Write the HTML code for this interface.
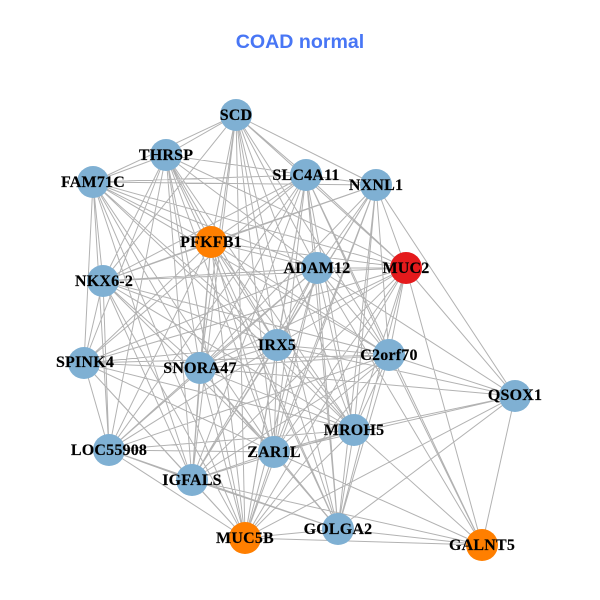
<!DOCTYPE html>
<html><head><meta charset="utf-8"><style>
html,body{margin:0;padding:0;background:#fff}
svg{display:block}
.n text{font:bold 16px "Liberation Serif",serif;letter-spacing:.2px;text-anchor:middle;fill:#000;stroke:#000;stroke-width:.15px}
</style></head><body>
<svg width="600" height="600" viewBox="0 0 600 600" xmlns="http://www.w3.org/2000/svg">
<rect width="600" height="600" fill="#fff"/>
<text x="300" y="48" font-family="Liberation Sans" font-weight="bold" font-size="19.6" fill="#4876F5" text-anchor="middle">COAD normal</text>
<path fill="none" stroke="#b2b2b2" stroke-width="1" d="
M236 115L166 155M236 115L93 182M236 115L306 175M236 115L376 185M236 115L211 242M236 115L317 268M236 115L406 268M236 115L103 281M236 115L200 368M236 115L277 345M236 115L389 355M236 115L354 430M236 115L274 452M236 115L192 480M236 115L245 538M236 115L338 529
M166 155L93 182M166 155L306 175M166 155L211 242M166 155L317 268M166 155L406 268M166 155L103 281M166 155L84 363M166 155L200 368M166 155L277 345M166 155L354 430M166 155L109 450M166 155L274 452M166 155L192 480M166 155L245 538M166 155L338 529
M93 182L306 175M93 182L376 185M93 182L211 242M93 182L317 268M93 182L406 268M93 182L103 281M93 182L84 363M93 182L200 368M93 182L277 345M93 182L389 355M93 182L354 430M93 182L109 450M93 182L274 452M93 182L192 480M93 182L245 538
M306 175L376 185M306 175L211 242M306 175L317 268M306 175L406 268M306 175L103 281M306 175L84 363M306 175L200 368M306 175L277 345M306 175L389 355M306 175L354 430M306 175L109 450M306 175L274 452M306 175L192 480M306 175L245 538M306 175L338 529M306 175L482 545
M376 185L211 242M376 185L317 268M376 185L406 268M376 185L103 281M376 185L200 368M376 185L277 345M376 185L389 355M376 185L515 396M376 185L354 430M376 185L274 452M376 185L192 480M376 185L245 538M376 185L338 529
M211 242L317 268M211 242L406 268M211 242L103 281M211 242L84 363M211 242L200 368M211 242L277 345M211 242L389 355M211 242L354 430M211 242L109 450M211 242L274 452M211 242L192 480M211 242L245 538M211 242L338 529
M317 268L406 268M317 268L103 281M317 268L84 363M317 268L200 368M317 268L277 345M317 268L389 355M317 268L515 396M317 268L354 430M317 268L109 450M317 268L274 452M317 268L192 480M317 268L245 538M317 268L338 529M317 268L482 545
M406 268L103 281M406 268L84 363M406 268L200 368M406 268L277 345M406 268L389 355M406 268L515 396M406 268L354 430M406 268L274 452M406 268L192 480M406 268L245 538M406 268L338 529M406 268L482 545
M103 281L84 363M103 281L200 368M103 281L277 345M103 281L389 355M103 281L354 430M103 281L109 450M103 281L274 452M103 281L192 480M103 281L245 538
M84 363L200 368M84 363L277 345M84 363L389 355M84 363L354 430M84 363L109 450M84 363L274 452M84 363L192 480M84 363L245 538
M200 368L277 345M200 368L389 355M200 368L515 396M200 368L354 430M200 368L109 450M200 368L274 452M200 368L192 480M200 368L245 538M200 368L338 529
M277 345L389 355M277 345L515 396M277 345L354 430M277 345L109 450M277 345L274 452M277 345L192 480M277 345L245 538M277 345L338 529
M389 355L515 396M389 355L354 430M389 355L109 450M389 355L274 452M389 355L192 480M389 355L245 538M389 355L338 529M389 355L482 545
M515 396L354 430M515 396L274 452M515 396L245 538M515 396L338 529M515 396L482 545
M354 430L109 450M354 430L274 452M354 430L192 480M354 430L245 538M354 430L338 529M354 430L482 545
M109 450L274 452M109 450L192 480M109 450L245 538M109 450L338 529
M274 452L192 480M274 452L245 538M274 452L338 529M274 452L482 545
M192 480L245 538M192 480L338 529M192 480L482 545
M245 538L338 529M245 538L482 545M338 529L482 545"/>
<g fill="#7FB0D3">
<circle cx="236" cy="115" r="16"/><circle cx="166" cy="155" r="16"/><circle cx="93" cy="182" r="16"/><circle cx="306" cy="175" r="16"/><circle cx="376" cy="185" r="16"/><circle cx="317" cy="268" r="16"/><circle cx="103" cy="281" r="16"/><circle cx="84" cy="363" r="16"/><circle cx="200" cy="368" r="16"/><circle cx="277" cy="345" r="16"/><circle cx="389" cy="355" r="16"/><circle cx="515" cy="396" r="16"/><circle cx="354" cy="430" r="16"/><circle cx="109" cy="450" r="16"/><circle cx="274" cy="452" r="16"/><circle cx="192" cy="480" r="16"/><circle cx="338" cy="529" r="16"/>
</g>
<g fill="#FF7F00"><circle cx="211" cy="242" r="16"/><circle cx="245" cy="538" r="16"/><circle cx="482" cy="545" r="16"/></g>
<circle cx="406" cy="268" r="16" fill="#E41A1C"/>
<g class="n">
<text x="236" y="120">SCD</text>
<text x="166" y="160">THRSP</text>
<text x="93" y="187">FAM71C</text>
<text x="306" y="180">SLC4A11</text>
<text x="376" y="190">NXNL1</text>
<text x="211" y="247">PFKFB1</text>
<text x="317" y="273">ADAM12</text>
<text x="406" y="273">MUC2</text>
<text x="104" y="286">NKX6-2</text>
<text x="85" y="367">SPINK4</text>
<text x="200" y="373">SNORA47</text>
<text x="277" y="350">IRX5</text>
<text x="389" y="360">C2orf70</text>
<text x="515" y="400">QSOX1</text>
<text x="354" y="435">MROH5</text>
<text x="109" y="455">LOC55908</text>
<text x="274" y="457">ZAR1L</text>
<text x="192" y="485">IGFALS</text>
<text x="245" y="543">MUC5B</text>
<text x="338" y="534">GOLGA2</text>
<text x="482" y="550">GALNT5</text>
</g>
</svg>
</body></html>
